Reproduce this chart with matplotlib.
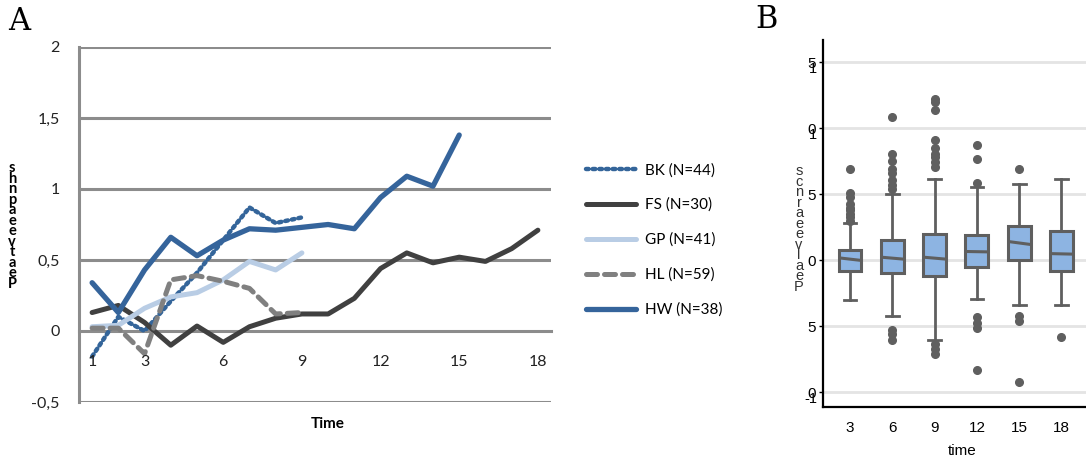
import matplotlib.pyplot as plt

# --- panel A data: mean change per wave ---
waves = list(range(1, 19))
bk = [-0.18, 0.10, 0.00, 0.21, 0.41, 0.64, 0.87, 0.76, 0.80]
fs = [0.13, 0.18, 0.06, -0.10, 0.035, -0.08, 0.03, 0.09, 0.12, 0.12,
      0.23, 0.44, 0.55, 0.48, 0.52, 0.49, 0.58, 0.71]
gp = [0.03, 0.04, 0.16, 0.24, 0.27, 0.36, 0.49, 0.43, 0.55]
hl = [0.02, 0.02, -0.16, 0.36, 0.39, 0.35, 0.30, 0.12, 0.13]
hw = [0.34, 0.13, 0.43, 0.66, 0.53, 0.64, 0.72, 0.71, 0.73, 0.75,
      0.72, 0.94, 1.09, 1.02, 1.38]
labels_a = ['BK (N=44)', 'FS (N=30)', 'GP (N=41)', 'HL (N=59)', 'HW (N=38)']
xticks_a = [1, 3, 6, 9, 12, 15, 18]
yticks_a = [-0.5, 0, 0.5, 1, 1.5, 2]
ytick_labels_a = ['-0,5', '0', '0,5', '1', '1,5', '2']

# --- panel B data: box plot stats per time point ---
times = ['3', '6', '9', '12', '15', '18']
q1 = [-0.083, -0.096, -0.121, -0.05, 0.0, -0.083]
q3 = [0.076, 0.157, 0.197, 0.195, 0.258, 0.22]
med_left = [0.02, 0.025, 0.025, 0.068, 0.144, 0.052]
med_right = [0.0, 0.01, 0.01, 0.065, 0.121, 0.048]
whis_lo = [-0.30, -0.42, -0.60, -0.29, -0.34, -0.34]
whis_hi = [0.28, 0.50, 0.62, 0.555, 0.58, 0.62]
outliers = [
    [0.69, 0.51, 0.48, 0.43, 0.40, 0.38, 0.35, 0.33, 0.30],
    [1.09, 0.81, 0.75, 0.69, 0.66, 0.61, 0.57, 0.54, -0.53, -0.56, -0.60],
    [1.22, 1.20, 1.14, 0.91, 0.85, 0.81, 0.78, 0.745, 0.71, -0.63, -0.67, -0.71],
    [0.876, 0.77, 0.59, -0.43, -0.47, -0.51, -0.83],
    [0.69, -0.42, -0.46, -0.92],
    [-0.58],
]
yticks_b = [-1.0, -0.5, 0, 0.5, 1.0, 1.5]
ytick_main_b = ['0', '5', '0', '5', '0', '5']   # garbled labels as in the source
ytick_extra_b = ['-1', '', '', '', '1', '1']

fig = plt.figure(figsize=(10.86, 4.61), dpi=100)

# ---------------- panel A ----------------
ax = fig.add_axes([79 / 1086, 59 / 461, 472 / 1086, 355 / 461])
grid_c = '#8c8c8c'
ax.plot(waves[:len(bk)], bk, color='#34659a', lw=3.2, linestyle=(0, (0.6, 0.9)),
        dash_capstyle='round', label=labels_a[0])
ax.plot(waves[:len(fs)], fs, color='#404040', lw=3.6, solid_capstyle='round', label=labels_a[1])
ax.plot(waves[:len(gp)], gp, color='#b9cde5', lw=3.6, solid_capstyle='round', label=labels_a[2])
ax.plot(waves[:len(hl)], hl, color='#808080', lw=3.6, linestyle=(0, (2.2, 1.4)),
        dash_capstyle='round', label=labels_a[3])
ax.plot(waves[:len(hw)], hw, color='#35649b', lw=3.8, solid_capstyle='round', label=labels_a[4])

ax.set_xlim(0.5, 18.5)
ax.set_ylim(-0.5, 2)
ax.set_yticks(yticks_a)
ax.set_yticklabels(ytick_labels_a)
ax.set_xticks(xticks_a)
ax.set_xticklabels([str(t) for t in xticks_a])
for y in yticks_a:
    if y != 0:
        ax.axhline(y, color=grid_c, lw=2.2, zorder=0)
for s in ['top', 'right']:
    ax.spines[s].set_visible(False)
ax.spines['bottom'].set_position(('data', 0))
ax.spines['bottom'].set_color(grid_c)
ax.spines['bottom'].set_linewidth(2.2)
ax.spines['bottom'].set_zorder(0)
ax.spines['left'].set_color(grid_c)
ax.spines['left'].set_linewidth(2.2)
ax.xaxis.set_zorder(3)
ax.tick_params(length=0, labelsize=11.5, colors='#222222')
ax.tick_params(axis='y', pad=14)
ax.tick_params(axis='x', pad=17)
for lbl in ax.get_xticklabels() + ax.get_yticklabels():
    lbl.set_fontfamily('Lato')
ax.text(0.527, -0.043, 'Time', transform=ax.transAxes, ha='center', va='top',
        fontsize=11, fontweight='bold', family='Lato')
fig.text(12 / 1086, 1 - 226 / 461, 's\nh\nn\np\na\ne\ne\nv\nt\na\ne\nP', ha='center',
         va='center', fontsize=10.5, fontweight='bold', family='Lato', linespacing=0.68)

handles, lab = ax.get_legend_handles_labels()
fig.legend(handles, lab, loc='center left', bbox_to_anchor=(578 / 1086, 1 - 240 / 461),
           frameon=False, handlelength=3.3, handletextpad=0.6, labelspacing=1.35,
           borderpad=0, prop={'family': 'Lato', 'size': 11})

fig.text(8 / 1086, 1 - 22 / 461, 'A', fontsize=22, family='DejaVu Serif', va='center')
fig.text(755 / 1086, 1 - 20 / 461, 'B', fontsize=22, family='DejaVu Serif', va='center')

# ---------------- panel B ----------------
bx = fig.add_axes([823 / 1086, 54 / 461, 263 / 1086, 367 / 461])
box_edge = '#5f5f5f'
stats = []
for i in range(len(times)):
    stats.append({'q1': q1[i], 'q3': q3[i], 'med': (med_left[i] + med_right[i]) / 2,
                  'whislo': whis_lo[i], 'whishi': whis_hi[i], 'fliers': outliers[i]})
bx.bxp(stats, positions=range(len(times)), widths=0.54, patch_artist=True,
       boxprops=dict(facecolor='#8db4e2', edgecolor=box_edge, linewidth=2.2),
       whiskerprops=dict(color=box_edge, linewidth=2),
       capprops=dict(color=box_edge, linewidth=2),
       medianprops=dict(linestyle='none'),
       flierprops=dict(marker='o', markerfacecolor=box_edge, markeredgecolor=box_edge,
                       markersize=5.5), capwidths=0.3)
for i in range(len(times)):
    bx.plot([i - 0.27, i + 0.27], [med_left[i], med_right[i]], color=box_edge, lw=2.2,
            solid_capstyle='butt', zorder=5)

bx.set_xlim(-0.64, 5.58)
bx.set_ylim(-1.11, 1.67)
bx.set_xticks(range(len(times)))
bx.set_xticklabels(times)
bx.set_yticks(yticks_b)
bx.set_yticklabels(ytick_main_b)
for y, extra in zip(yticks_b, ytick_extra_b):
    bx.axhline(y, color='#e4e4e4', lw=2, zorder=0)
    if extra:
        bx.annotate(extra, xy=(0, y), xycoords=('axes fraction', 'data'),
                    xytext=(-4, -5), textcoords='offset points', ha='right', va='center',
                    fontsize=10.5, family='Liberation Sans', annotation_clip=False)
for s in ['top', 'right']:
    bx.spines[s].set_visible(False)
bx.spines['left'].set_linewidth(1.6)
bx.spines['bottom'].set_linewidth(1.6)
bx.tick_params(axis='x', length=0, pad=10, labelsize=11)
bx.tick_params(axis='y', length=3, width=1, pad=2, labelsize=11)
for lbl in bx.get_xticklabels() + bx.get_yticklabels():
    lbl.set_fontfamily('Liberation Sans')
bx.text(0.53, -0.12, 'time', transform=bx.transAxes, ha='center', va='center', fontsize=11,
        family='Liberation Sans')
fig.text(799 / 1086, 1 - 229 / 461, 's\nc\nn\nr\na\ne\ne\nv\nl\na\ne\nP', ha='center',
         va='center', fontsize=10.5, family='Liberation Sans', linespacing=0.68,
         color='#333333')

fig.savefig('out.png', dpi=100)
